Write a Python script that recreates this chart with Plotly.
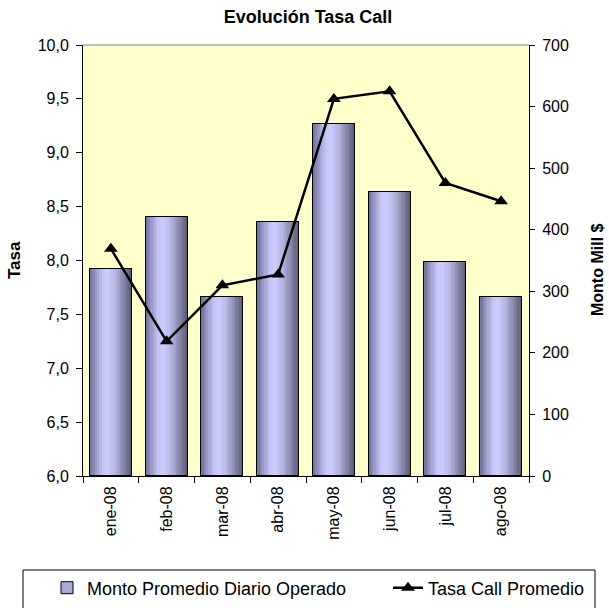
import plotly.graph_objects as go

# Monthly data
meses = ["ene-08", "feb-08", "mar-08", "abr-08", "may-08", "jun-08", "jul-08", "ago-08"]
monto = [336, 421, 290, 412, 571, 462, 347, 290]          # Monto Promedio Diario Operado (Mill $)
tasa = [8.11, 7.25, 7.77, 7.87, 9.50, 9.57, 8.72, 8.55]   # Tasa Call Promedio

FONT = "Liberation Sans"
BAR_W = 0.75
N_STRIPS = 18

# plot-area geometry in pixels (used for paper-coordinate placement)
PX_L, PX_R, PX_T, PX_B = 83, 529, 45, 476
PW, PH = PX_R - PX_L, PX_B - PX_T


def px_x(px):
    return (px - PX_L) / PW


def px_y(py):
    return (PX_B - py) / PH


# colour stops for the cylinder-like shading across each bar
stops = [
    (0.00, (108, 108, 146)),
    (0.12, (150, 150, 196)),
    (0.30, (196, 196, 246)),
    (0.42, (204, 204, 255)),
    (0.60, (182, 182, 228)),
    (0.80, (136, 136, 172)),
    (1.00, (88, 88, 112)),
]


def shade(t):
    for (p0, c0), (p1, c1) in zip(stops[:-1], stops[1:]):
        if p0 <= t <= p1:
            f = (t - p0) / (p1 - p0) if p1 > p0 else 0
            c = [round(a + (b - a) * f) for a, b in zip(c0, c1)]
            return "rgb(%d,%d,%d)" % tuple(c)
    return "rgb(%d,%d,%d)" % stops[-1][1]


fig = go.Figure()

# base bar (also provides the legend entry)
fig.add_trace(go.Bar(
    x=meses, y=monto, name="Monto Promedio Diario Operado",
    width=BAR_W, offset=-BAR_W / 2,
    marker=dict(color="rgb(170,170,215)", line=dict(color="black", width=1)),
    yaxis="y", showlegend=True, legend="legend",
))

# shading strips
sw = BAR_W / N_STRIPS
for i in range(N_STRIPS):
    fig.add_trace(go.Bar(
        x=meses, y=monto, width=sw * 1.02, offset=-BAR_W / 2 + i * sw,
        marker=dict(color=shade((i + 0.5) / N_STRIPS), line=dict(width=0)),
        yaxis="y", showlegend=False, hoverinfo="skip",
    ))

# outline on top of the strips
fig.add_trace(go.Bar(
    x=meses, y=monto, width=BAR_W, offset=-BAR_W / 2,
    marker=dict(color="rgba(0,0,0,0)", line=dict(color="black", width=1)),
    yaxis="y", showlegend=False, hoverinfo="skip",
))

# rate line
fig.add_trace(go.Scatter(
    x=meses, y=tasa, name="Tasa Call Promedio", mode="lines+markers",
    line=dict(color="black", width=2.5),
    marker=dict(symbol="triangle-up", size=12, color="black"),
    yaxis="y2", legend="legend2",
))

legend_common = dict(
    orientation="h", yanchor="middle", y=px_y(588), xanchor="left",
    bgcolor="rgba(0,0,0,0)", borderwidth=0,
    font=dict(family=FONT, size=18, color="black"),
)

fig.update_layout(
    width=609, height=608,
    margin=dict(l=PX_L, r=609 - PX_R, t=PX_T, b=608 - PX_B, autoexpand=False),
    paper_bgcolor="white", plot_bgcolor="#FFFFCC",
    barmode="overlay", bargap=0,
    separators=",.",
    font=dict(family=FONT, size=16, color="black"),
    title=dict(text="<b>Evolución Tasa Call</b>", x=px_x(308), xref="paper",
               xanchor="center", y=1 - 17 / 608, yanchor="middle",
               font=dict(family=FONT, size=18, color="black")),
    xaxis=dict(
        type="category", range=[-0.5, 7.5], automargin=False,
        showline=True, linecolor="black", linewidth=1,
        ticks="outside", tickson="boundaries", ticklen=6, tickcolor="black",
        tickangle=-90, showgrid=False, zeroline=False, ticklabelstandoff=3,
        tickfont=dict(family=FONT, size=16),
    ),
    yaxis=dict(
        side="right", range=[0, 700], dtick=100, tick0=0, automargin=False,
        showline=True, linecolor="black", linewidth=1,
        ticks="outside", ticklen=5, tickcolor="black", ticklabelstandoff=4,
        showgrid=False, zeroline=False,
        tickfont=dict(family=FONT, size=16),
    ),
    yaxis2=dict(
        side="left", overlaying="y", range=[6, 10], dtick=0.5, tick0=6,
        tickformat=".1f", automargin=False,
        showline=True, linecolor="black", linewidth=1,
        ticks="outside", ticklen=6, tickcolor="black", ticklabelstandoff=4,
        showgrid=False, zeroline=False,
        tickfont=dict(family=FONT, size=16),
    ),
    legend=dict(legend_common, x=px_x(47)),
    legend2=dict(legend_common, x=px_x(388)),
    shapes=[
        # plot-area top border
        dict(type="line", xref="paper", yref="paper", x0=0, x1=1, y0=1, y1=1,
             line=dict(color="#808080", width=1)),
        # legend frame
        dict(type="rect", xref="paper", yref="paper",
             x0=px_x(23), x1=px_x(595), y0=px_y(615), y1=px_y(570),
             line=dict(color="black", width=1)),
    ],
    annotations=[
        dict(text="<b>Tasa</b>", xref="paper", yref="paper",
             x=px_x(14), y=px_y(260), textangle=-90,
             showarrow=False, xanchor="center", yanchor="middle",
             font=dict(family=FONT, size=17)),
        dict(text="<b>Monto Mill $</b>", xref="paper", yref="paper",
             x=px_x(597), y=px_y(270), textangle=-90,
             showarrow=False, xanchor="center", yanchor="middle",
             font=dict(family=FONT, size=16)),
    ],
)

fig.write_html("out.html")
